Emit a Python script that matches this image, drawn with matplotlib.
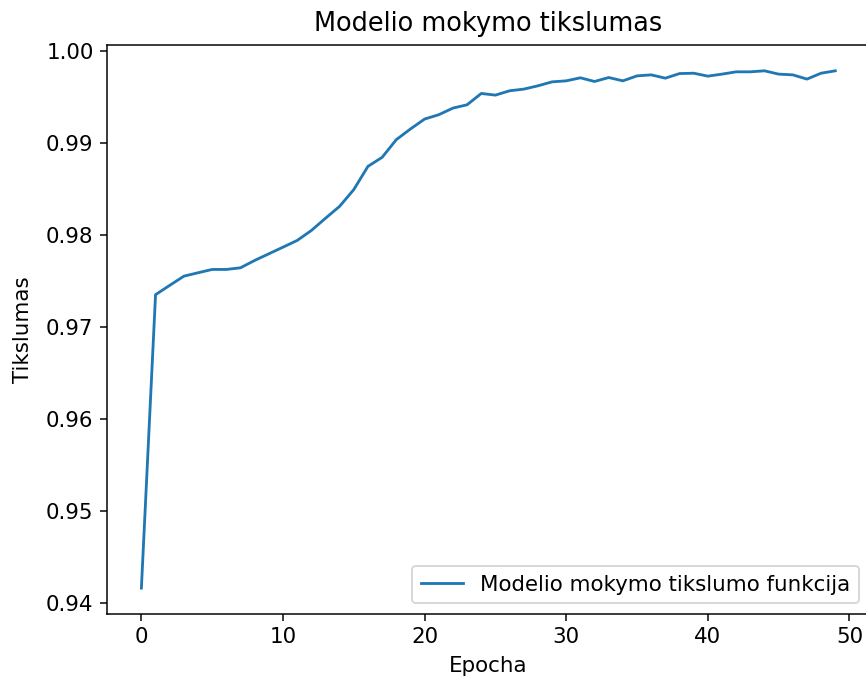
import matplotlib
matplotlib.use("Agg")
import matplotlib.pyplot as plt

# Training accuracy per epoch
epochs = list(range(50))
accuracy = [
    0.94163, 0.97351, 0.97452, 0.97552, 0.97589, 0.97625, 0.97625, 0.97643, 0.97723, 0.97795,
    0.97867, 0.97940, 0.98048, 0.98181, 0.98311, 0.98493, 0.98745, 0.98843, 0.99035, 0.99151,
    0.99259, 0.99306, 0.99378, 0.99414, 0.99537, 0.99519, 0.99566, 0.99584, 0.99620, 0.99663,
    0.99674, 0.99707, 0.99667, 0.99710, 0.99674, 0.99728, 0.99739, 0.99703, 0.99753, 0.99757,
    0.99725, 0.99747, 0.99772, 0.99772, 0.99783, 0.99747, 0.99739, 0.99693, 0.99757, 0.99783,
]

plt.rcParams["font.size"] = 11.4

dpi = 135
fig = plt.figure(figsize=(866 / dpi, 680 / dpi), dpi=dpi)
ax = fig.add_axes([0.1232, 0.0971, 0.8814, 0.8368])

ax.plot(epochs, accuracy, label="Modelio mokymo tikslumo funkcija")

ax.set_title("Modelio mokymo tikslumas", fontsize=13.7, pad=7.5)
ax.set_xlabel("Epocha", labelpad=5)
ax.set_ylabel("Tikslumas", labelpad=7)
ax.legend(loc="lower right")

fig.savefig("out.png", dpi=dpi)
